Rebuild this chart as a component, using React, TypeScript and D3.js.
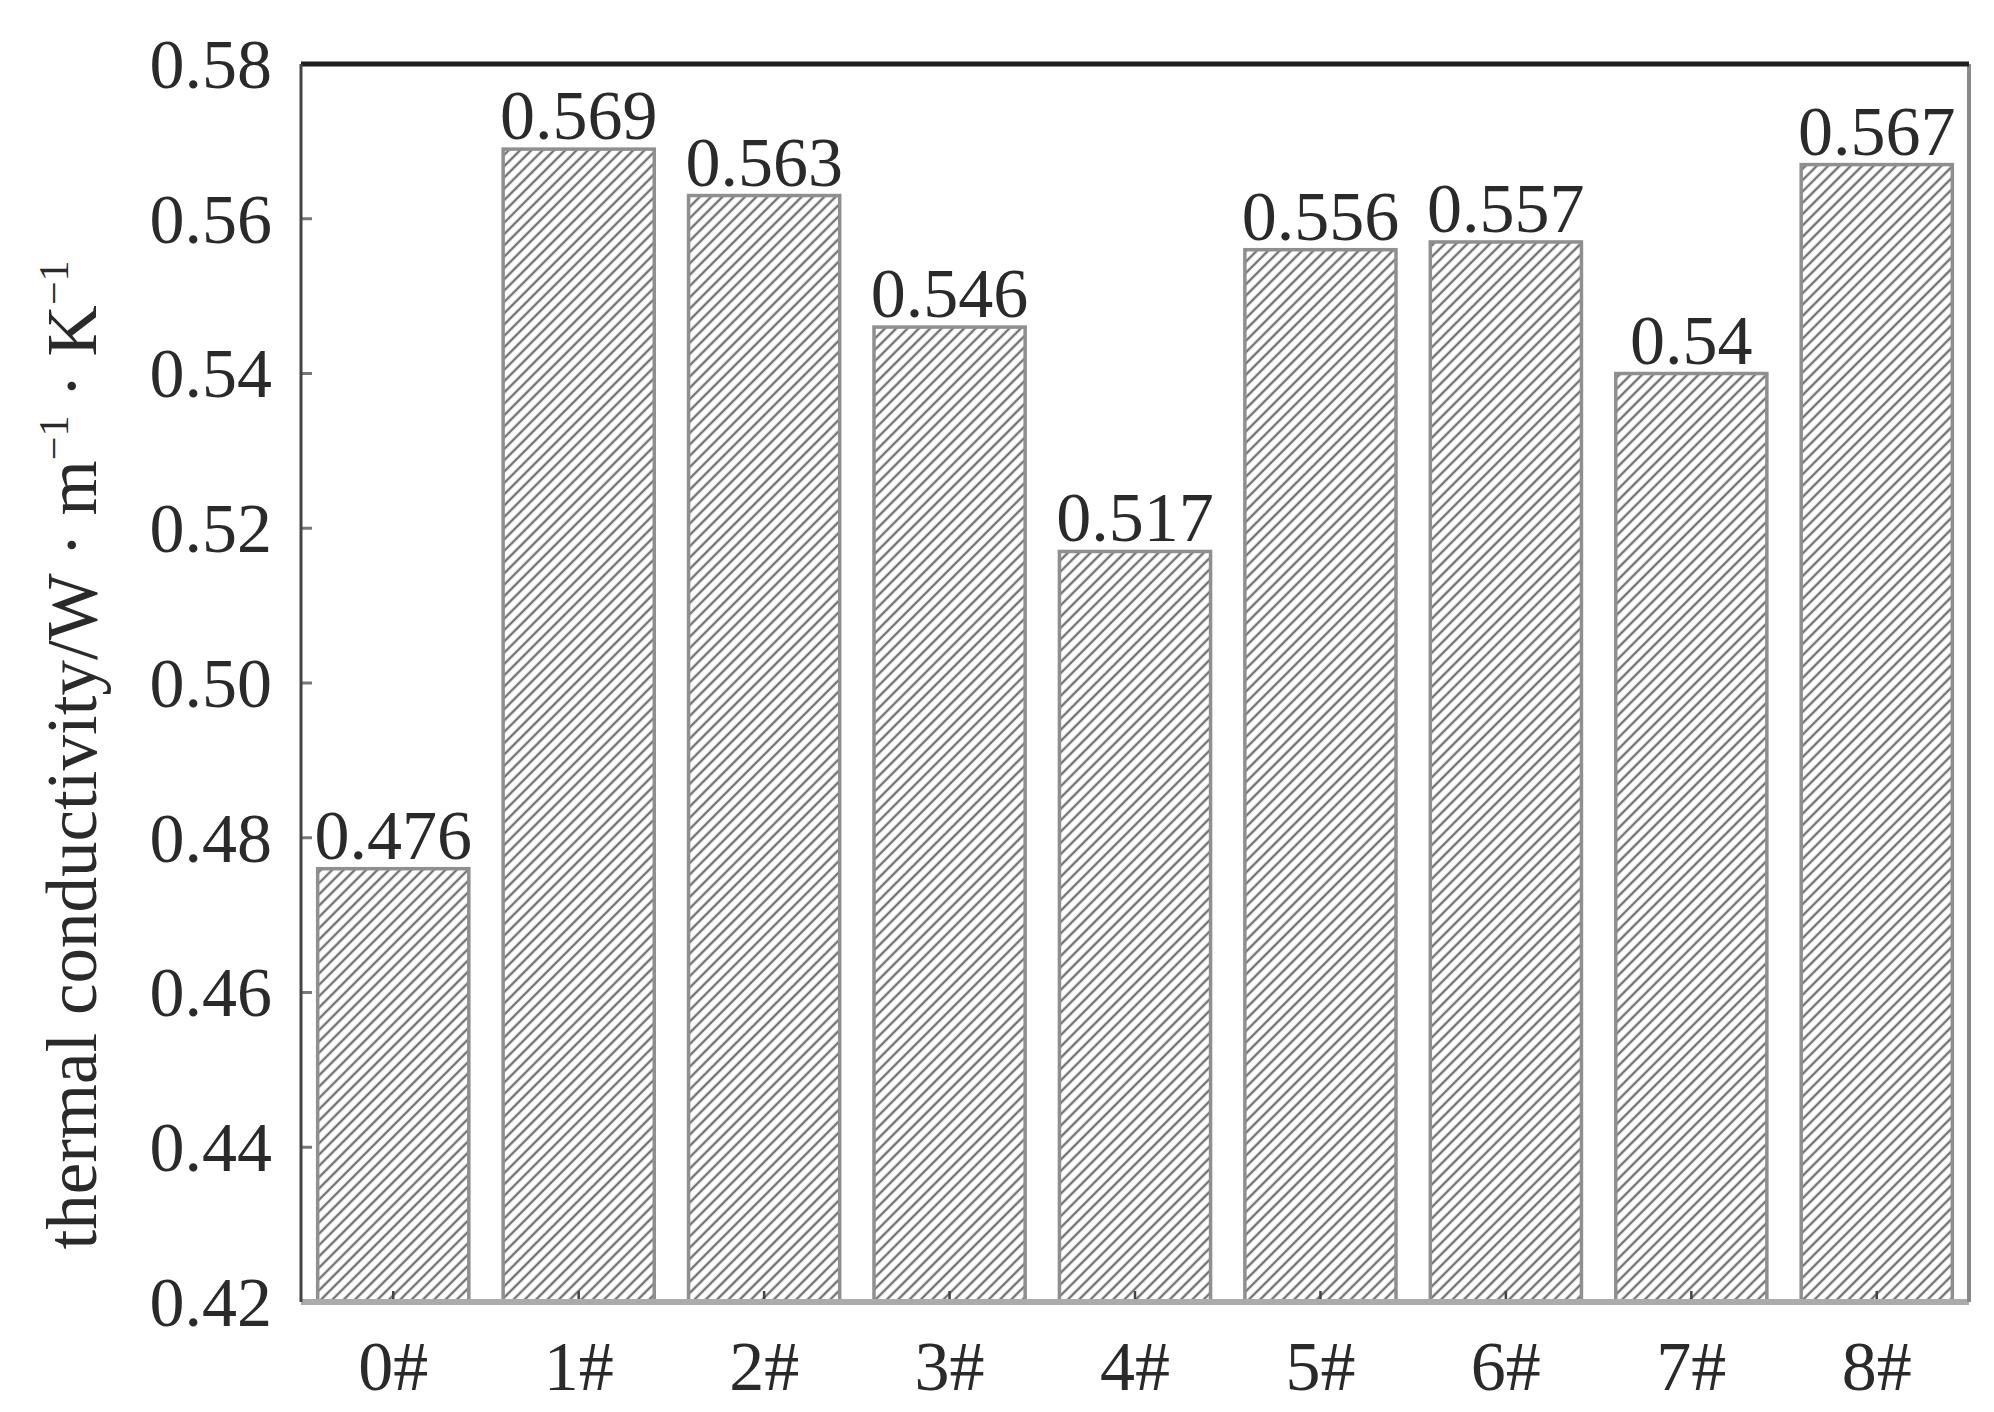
import React from 'react';
import * as d3 from 'd3';

const categories = ['0#', '1#', '2#', '3#', '4#', '5#', '6#', '7#', '8#'];
const values = [0.476, 0.569, 0.563, 0.546, 0.517, 0.556, 0.557, 0.54, 0.567];
const valueLabels = ['0.476', '0.569', '0.563', '0.546', '0.517', '0.556', '0.557', '0.54', '0.567'];
const yTicks = [0.42, 0.44, 0.46, 0.48, 0.5, 0.52, 0.54, 0.56, 0.58];
const yTickLabels = ['0.42', '0.44', '0.46', '0.48', '0.50', '0.52', '0.54', '0.56', '0.58'];

const W = 1994;
const H = 1412;
const m = { left: 301, right: 25, top: 64, bottom: 110 };
const FONT = '"Liberation Serif", "DejaVu Serif", serif';
const TXT = '#2a2a2a';

export default function App() {
  const x = d3
    .scaleBand<string>()
    .domain(categories)
    .range([m.left, W - m.right])
    .paddingInner(0.185)
    .paddingOuter(0.09);
  const y = d3.scaleLinear().domain([0.42, 0.58]).range([H - m.bottom, m.top]);
  const y0 = y(0.42);

  return (
    <svg
      width={W}
      height={H}
      viewBox={`0 0 ${W} ${H}`}
      style={{ position: 'absolute', left: 0, top: 0, background: '#fff' }}
    >
      <defs>
        <pattern
          id="hatch"
          patternUnits="userSpaceOnUse"
          width={8}
          height={8}
          patternTransform="rotate(45)"
        >
          <rect width={8} height={8} fill="#fff" />
          <line x1={2} y1={0} x2={2} y2={8} stroke="#737373" strokeWidth={2.4} />
        </pattern>
      </defs>

      {/* bars */}
      {categories.map((c, i) => {
        const bx = x(c)!;
        const by = y(values[i]);
        return (
          <g key={c}>
            <rect
              x={bx}
              y={by}
              width={x.bandwidth()}
              height={y0 - by}
              fill="url(#hatch)"
              stroke="#8f8f8f"
              strokeWidth={3.5}
            />
            <text
              x={bx + x.bandwidth() / 2}
              y={by - 10}
              textAnchor="middle"
              fontFamily={FONT}
              fontSize={70}
              fill={TXT}
            >
              {valueLabels[i]}
            </text>
          </g>
        );
      })}

      {/* x ticks (inside) */}
      {categories.map((c) => {
        const cx = x(c)! + x.bandwidth() / 2;
        return <line key={'xt' + c} x1={cx} x2={cx} y1={y0} y2={y0 - 11} stroke="#444" strokeWidth={2.5} />;
      })}

      {/* y ticks (inside) */}
      {yTicks.map((t) => (
        <line key={'yt' + t} x1={m.left} x2={m.left + 11} y1={y(t)} y2={y(t)} stroke="#777" strokeWidth={3} />
      ))}

      {/* frame */}
      <line x1={m.left} x2={W - m.right} y1={y0} y2={y0} stroke="#ababab" strokeWidth={6} />
      <line x1={W - m.right} x2={W - m.right} y1={m.top} y2={y0} stroke="#8a8a8a" strokeWidth={4} />
      <line x1={m.left} x2={W - m.right} y1={m.top} y2={m.top} stroke="#1e1e1e" strokeWidth={5} />
      <line x1={m.left} x2={m.left} y1={m.top} y2={y0} stroke="#444" strokeWidth={3} />

      {/* y tick labels */}
      {yTicks.map((t, i) => (
        <text
          key={'yl' + t}
          x={m.left - 29}
          y={y(t)}
          dy="0.34em"
          textAnchor="end"
          fontFamily={FONT}
          fontSize={70}
          fill={TXT}
        >
          {yTickLabels[i]}
        </text>
      ))}

      {/* x labels */}
      {categories.map((c) => (
        <text
          key={'xl' + c}
          x={x(c)! + x.bandwidth() / 2}
          y={y0 + 88}
          textAnchor="middle"
          fontFamily={FONT}
          fontSize={70}
          fill={TXT}
        >
          {c}
        </text>
      ))}

      {/* y axis title */}
      <text
        transform={`translate(96, ${(m.top + y0) / 2 + 72}) rotate(-90)`}
        textAnchor="middle"
        fontFamily={FONT}
        fontSize={71}
        fill={TXT}
      >
        thermal conductivity/W · m
        <tspan fontSize={42} dy={-28}>−1</tspan>
        <tspan dy={28}> · K</tspan>
        <tspan fontSize={42} dy={-28}>−1</tspan>
      </text>
    </svg>
  );
}
